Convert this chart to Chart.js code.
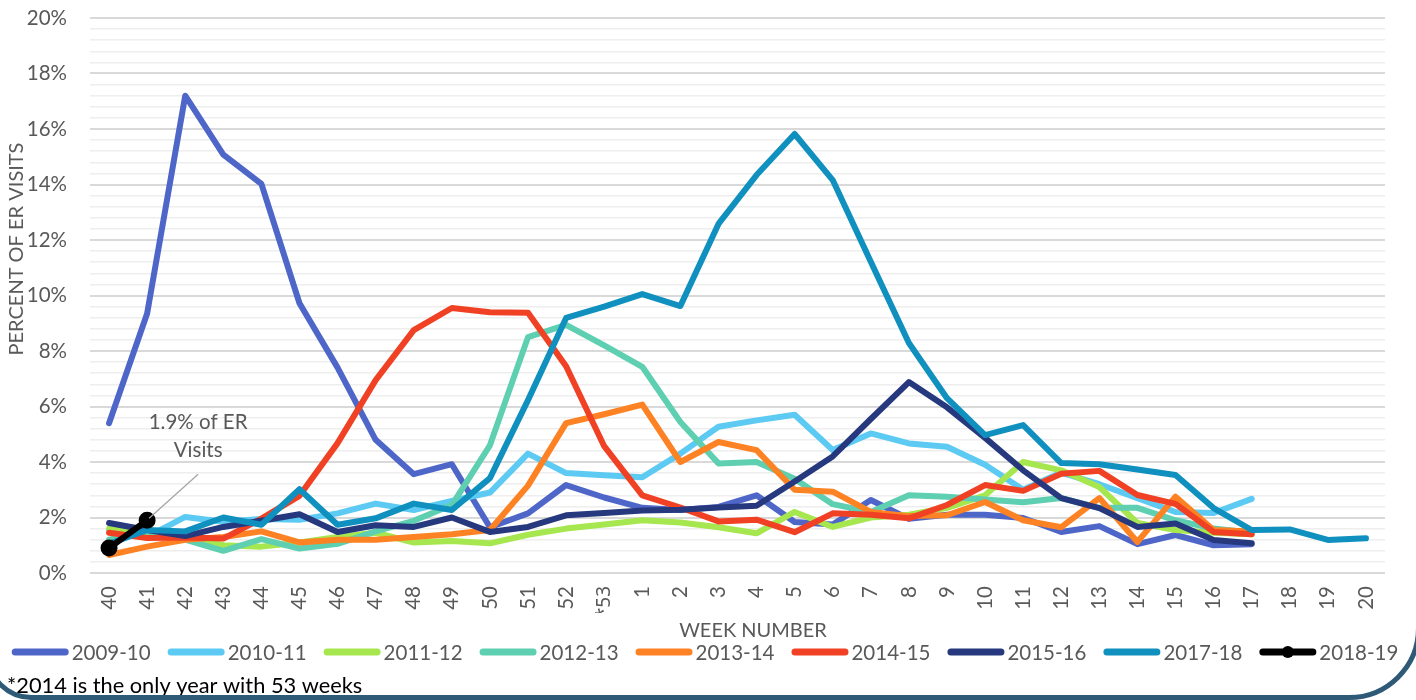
<!DOCTYPE html>
<html>
<head>
<meta charset="utf-8">
<script src="https://cdn.jsdelivr.net/npm/chart.js@4.4.0/dist/chart.umd.min.js"></script>
<style>
html,body{margin:0;padding:0;background:#fff;overflow:hidden;}
#wrap{position:relative;width:1416px;height:700px;overflow:hidden;background:#fff;}
#frame{position:absolute;left:-14px;top:-140px;width:1425px;height:830px;border:5px solid #2f5a77;border-radius:0 0 72px 45px;pointer-events:none;}
canvas{position:absolute;left:0;top:0;}
</style>
</head>
<body>
<div id="wrap">
<canvas id="c" width="1416" height="700"></canvas>
<div id="frame"></div>
</div>
<script>
// ---- data ----
const weeks = ['40','41','42','43','44','45','46','47','48','49','50','51','52','*53',
  '1','2','3','4','5','6','7','8','9','10','11','12','13','14','15','16','17','18','19','20'];

const s2009_10 = [5.4, 9.35, 17.2, 15.08, 14.02, 9.72, 7.4, 4.8, 3.56, 3.92, 1.65, 2.15, 3.17, 2.72,
  2.35, 2.27, 2.38, 2.8, 1.84, 1.75, 2.63, 1.95, 2.1, 2.1, 1.98, 1.48, 1.69, 1.04, 1.37, 1.0, 1.04, null, null, null];
const s2010_11 = [1.55, 1.3, 2.02, 1.85, 1.95, 1.92, 2.15, 2.5, 2.27, 2.6, 2.9, 4.3, 3.6, 3.52,
  3.45, 4.3, 5.27, 5.5, 5.7, 4.43, 5.03, 4.67, 4.55, 3.9, 3.0, 3.62, 3.2, 2.7, 2.2, 2.16, 2.67, null, null, null];
const s2011_12 = [1.6, 1.42, 1.35, 1.0, 0.95, 1.1, 1.3, 1.45, 1.1, 1.15, 1.07, 1.38, 1.6, 1.75,
  1.9, 1.82, 1.65, 1.43, 2.2, 1.66, 2.0, 2.1, 2.35, 2.8, 4.0, 3.7, 3.1, 1.8, 1.55, 1.45, 1.4, null, null, null];
const s2012_13 = [1.2, 1.5, 1.2, 0.8, 1.22, 0.88, 1.05, 1.5, 1.88, 2.45, 4.6, 8.5, 8.94, 8.2,
  7.43, 5.44, 3.95, 4.0, 3.4, 2.48, 2.2, 2.8, 2.75, 2.65, 2.55, 2.7, 2.35, 2.35, 1.9, 1.6, 1.45, null, null, null];
const s2013_14 = [0.65, 0.95, 1.2, 1.3, 1.5, 1.1, 1.2, 1.2, 1.3, 1.4, 1.55, 3.15, 5.4, 5.72,
  6.07, 4.0, 4.72, 4.43, 3.0, 2.93, 2.2, 2.05, 2.08, 2.56, 1.9, 1.65, 2.7, 1.12, 2.75, 1.55, 1.5, null, null, null];
const s2014_15 = [1.45, 1.26, 1.28, 1.24, 1.96, 2.78, 4.68, 6.95, 8.75, 9.55, 9.4, 9.38, 7.45, 4.57,
  2.8, 2.36, 1.86, 1.92, 1.47, 2.15, 2.1, 1.97, 2.45, 3.17, 2.96, 3.58, 3.68, 2.81, 2.49, 1.48, 1.4, null, null, null];
const s2015_16 = [1.8, 1.55, 1.33, 1.66, 1.88, 2.12, 1.48, 1.72, 1.66, 2.0, 1.48, 1.66, 2.08, 2.16,
  2.25, 2.28, 2.36, 2.42, 3.3, 4.2, 5.55, 6.88, 5.97, 4.87, 3.7, 2.7, 2.34, 1.66, 1.78, 1.19, 1.07, null, null, null];
const s2017_18 = [1.05, 1.55, 1.5, 2.0, 1.74, 3.02, 1.74, 1.97, 2.5, 2.27, 3.42, 6.23, 9.19, 9.6,
  10.05, 9.62, 12.58, 14.34, 15.82, 14.16, 11.22, 8.29, 6.3, 4.97, 5.33, 3.96, 3.92, 3.73, 3.53, 2.34, 1.55, 1.57, 1.19, 1.25];
const s2018_19 = [0.9, 1.9, null, null, null, null, null, null, null, null, null, null, null, null,
  null, null, null, null, null, null, null, null, null, null, null, null, null, null, null, null, null, null, null, null];

const seriesLabels = ['2009-10','2010-11','2011-12','2012-13','2013-14','2014-15','2015-16','2017-18','2018-19'];
const seriesValues = [s2009_10, s2010_11, s2011_12, s2012_13, s2013_14, s2014_15, s2015_16, s2017_18, s2018_19];
const seriesColors = ['#4f66c9','#5ccaf2','#a6e64f','#5ecfb1','#fd8224','#f04124','#27397e','#0f90be','#000000'];

const yTickValues = [];
for (let i = 0; i <= 50; i++) yTickValues.push(Math.round(i * 4) / 10);

const yTitle = 'PERCENT OF ER VISITS';
const xTitle = 'WEEK NUMBER';
const footnote = '*2014 is the only year with 53 weeks';
const annText = ['1.9% of ER', 'Visits'];
const annIndex = 1;      // week 41
const annValue = 1.9;

// ---- chart ----
const FONT = 'Lato';
const GREY = '#595959';

const datasets = seriesLabels.map((lab, i) => ({
  label: lab,
  data: seriesValues[i],
  borderColor: seriesColors[i],
  backgroundColor: seriesColors[i],
  borderWidth: 6,
  borderJoinStyle: 'round',
  borderCapStyle: 'round',
  pointRadius: lab === '2018-19' ? 5.5 : 0,
  pointHoverRadius: 0,
  pointBackgroundColor: seriesColors[i],
  pointBorderColor: seriesColors[i],
  tension: 0,
  order: seriesLabels.length - 1 - i
}));

const customDraw = {
  id: 'customDraw',
  afterDraw(chart) {
    const ctx = chart.ctx;
    const xs = chart.scales.x, ys = chart.scales.y;

    // y axis title
    ctx.save();
    ctx.fillStyle = GREY;
    ctx.font = '20px ' + FONT;
    ctx.translate(17, 249);
    ctx.rotate(-Math.PI / 2);
    ctx.textAlign = 'center';
    ctx.textBaseline = 'middle';
    ctx.fillText(yTitle, 0, 0);
    ctx.restore();

    // x axis title
    ctx.save();
    ctx.fillStyle = GREY;
    ctx.font = '20px ' + FONT;
    ctx.textAlign = 'center';
    ctx.textBaseline = 'middle';
    ctx.fillText(xTitle, 753, 631);
    ctx.restore();

    // annotation
    const px = xs.getPixelForValue(annIndex), py = ys.getPixelForValue(annValue);
    ctx.save();
    ctx.strokeStyle = '#a6a6a6';
    ctx.lineWidth = 1.3;
    ctx.beginPath();
    ctx.moveTo(px + 2, py - 2);
    ctx.lineTo(px + 51, py - 46);
    ctx.stroke();
    ctx.fillStyle = GREY;
    ctx.font = '20.5px ' + FONT;
    ctx.textAlign = 'center';
    ctx.textBaseline = 'middle';
    ctx.fillText(annText[0], px + 51, py - 98);
    ctx.fillText(annText[1], px + 51, py - 70);
    ctx.restore();

    // legend
    ctx.save();
    ctx.font = '20.5px ' + FONT;
    ctx.textBaseline = 'middle';
    ctx.textAlign = 'left';
    const symW = 57, gapST = 3, gapItems = 17, ly = 652;
    const widths = chart.data.datasets.map(d => ctx.measureText(d.label).width);
    let total = 0;
    widths.forEach(w => total += symW + gapST + w);
    total += gapItems * (widths.length - 1);
    let x = 705 - total / 2;
    chart.data.datasets.forEach((d, i) => {
      ctx.strokeStyle = d.borderColor;
      ctx.lineWidth = 7;
      ctx.lineCap = 'round';
      ctx.beginPath();
      ctx.moveTo(x + 3.5, ly);
      ctx.lineTo(x + symW - 3.5, ly);
      ctx.stroke();
      if (d.pointRadius > 0) {
        ctx.fillStyle = d.borderColor;
        ctx.beginPath();
        ctx.arc(x + symW / 2, ly, 6, 0, Math.PI * 2);
        ctx.fill();
      }
      ctx.fillStyle = GREY;
      ctx.fillText(d.label, x + symW + gapST, ly + 1);
      x += symW + gapST + widths[i] + gapItems;
    });
    ctx.restore();

    // footnote
    ctx.save();
    ctx.fillStyle = '#000000';
    ctx.font = '21.8px ' + FONT;
    ctx.textAlign = 'left';
    ctx.textBaseline = 'middle';
    ctx.fillText(footnote, 7, 686);
    ctx.restore();
  }
};

new Chart(document.getElementById('c'), {
  type: 'line',
  data: { labels: weeks, datasets },
  options: {
    responsive: false,
    animation: false,
    devicePixelRatio: 1,
    layout: { padding: { top: 18, left: 0, right: 31, bottom: 87 } },
    plugins: { legend: { display: false }, tooltip: { enabled: false } },
    scales: {
      x: {
        offset: true,
        grid: { display: false, drawTicks: false },
        border: { display: false },
        ticks: {
          color: GREY,
          font: c => (c.tick && String(c.tick.label).indexOf('*') === 0)
            ? { family: 'Noto Sans', size: 19 }
            : { family: FONT, size: 20.5 },
          minRotation: 90, maxRotation: 90, autoSkip: false, padding: 13
        },
        afterFit: s => { s.height = 40; s.paddingLeft = 0; s.paddingRight = 0; s.paddingTop = 0; s.paddingBottom = 0; }
      },
      y: {
        min: 0, max: 20,
        afterBuildTicks: s => { s.ticks = yTickValues.map(v => ({ value: v })); },
        grid: {
          drawTicks: false,
          color: c => (c.tick && Math.abs(c.tick.value % 2) < 1e-6) ? '#d9d9d9' : '#eeeeee',
          lineWidth: c => (c.tick && Math.abs(c.tick.value % 2) < 1e-6) ? 2 : 1.5
        },
        border: { display: false },
        ticks: {
          color: GREY, font: { family: FONT, size: 20.5 }, autoSkip: false, padding: 23,
          callback: v => (Math.abs(v % 2) < 1e-6 ? v + '%' : '')
        },
        afterFit: s => { s.width = 90; s.paddingTop = 0; s.paddingBottom = 0; s.paddingLeft = 0; s.paddingRight = 0; }
      }
    }
  },
  plugins: [customDraw]
});
</script>
</body>
</html>
